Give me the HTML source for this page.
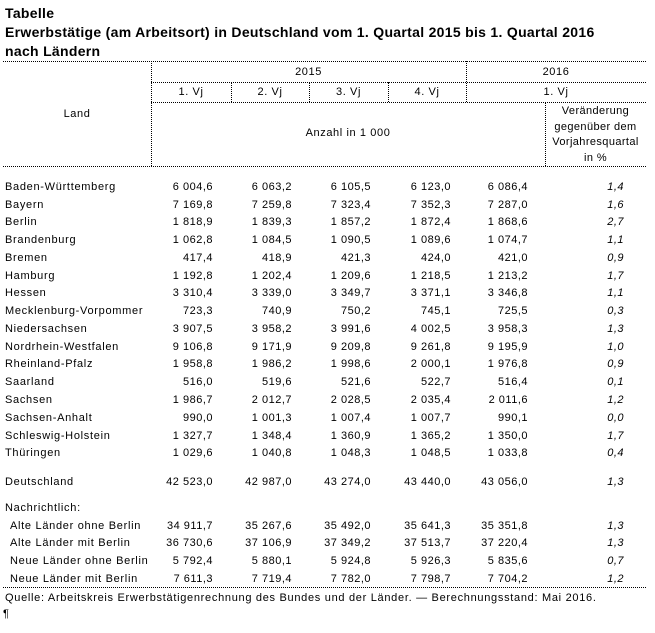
<!DOCTYPE html>
<html><head><meta charset="utf-8">
<style>
body{margin:0;background:#fff;width:655px;height:633px;position:relative;overflow:hidden;font-family:"Liberation Sans",Arial,sans-serif;color:#000}
.t{position:absolute;font-weight:bold;font-size:14px;left:5px;white-space:nowrap;line-height:18px;letter-spacing:0.3px}
.h{position:absolute;border-top:1px dotted #000;height:0}
.v{position:absolute;border-left:1px dotted #000;width:0}
.r{position:absolute;left:0;width:655px;height:14px;font-size:11px;line-height:14px;white-space:nowrap;letter-spacing:0.7px}
.r span{position:absolute}
.n{position:absolute;text-align:right;width:80px;letter-spacing:0.5px}
.c{position:absolute;font-size:11px;line-height:14px;text-align:center;white-space:nowrap;letter-spacing:0.6px}
</style></head><body>
<div class="t" style="top:4px">Tabelle</div>
<div class="t" style="top:23px">Erwerbstätige (am Arbeitsort) in Deutschland vom 1. Quartal 2015 bis 1. Quartal 2016</div>
<div class="t" style="top:42px">nach Ländern</div>

<div class="h" style="top:61px;left:3px;width:643px"></div>
<div class="h" style="top:82px;left:151px;width:495px"></div>
<div class="h" style="top:102px;left:151px;width:495px"></div>
<div class="h" style="top:166px;left:3px;width:643px"></div>
<div class="h" style="top:587px;left:3px;width:643px"></div>
<div class="v" style="left:151px;top:61px;height:105px"></div>
<div class="v" style="left:466px;top:61px;height:41px"></div>
<div class="v" style="left:231px;top:82px;height:20px"></div>
<div class="v" style="left:309px;top:82px;height:20px"></div>
<div class="v" style="left:388px;top:82px;height:20px"></div>
<div class="v" style="left:545px;top:102px;height:64px"></div>

<div class="c" style="left:151px;width:315px;top:65px">2015</div>
<div class="c" style="left:466px;width:180px;top:65px">2016</div>
<div class="c" style="left:151px;width:80px;top:85px">1. Vj</div>
<div class="c" style="left:231px;width:78px;top:85px">2. Vj</div>
<div class="c" style="left:309px;width:79px;top:85px">3. Vj</div>
<div class="c" style="left:388px;width:78px;top:85px">4. Vj</div>
<div class="c" style="left:466px;width:180px;top:85px">1. Vj</div>
<div class="c" style="left:3px;width:148px;top:107px">Land</div>
<div class="c" style="left:151px;width:394px;top:126px">Anzahl in 1 000</div>
<div class="c" style="left:545px;width:101px;top:104px;line-height:15.5px;letter-spacing:0.4px">Veränderung<br>gegenüber dem<br>Vorjahresquartal<br>in %</div>

<div class="r" style="top:591px"><span style="left:5px">Quelle: Arbeitskreis Erwerbstätigenrechnung des Bundes und der Länder. — Berechnungsstand: Mai 2016.</span></div>
<div class="r" style="top:607px"><span style="left:3px">¶</span></div>

<div class="r" style="top:180px"><span style="left:5px">Baden-Württemberg</span><span class="n" style="left:133px">6 004,6</span><span class="n" style="left:212px">6 063,2</span><span class="n" style="left:291px">6 105,5</span><span class="n" style="left:371px">6 123,0</span><span class="n" style="left:448px">6 086,4</span><span class="n" style="left:544px;font-style:italic">1,4</span></div>
<div class="r" style="top:198px"><span style="left:5px">Bayern</span><span class="n" style="left:133px">7 169,8</span><span class="n" style="left:212px">7 259,8</span><span class="n" style="left:291px">7 323,4</span><span class="n" style="left:371px">7 352,3</span><span class="n" style="left:448px">7 287,0</span><span class="n" style="left:544px;font-style:italic">1,6</span></div>
<div class="r" style="top:215px"><span style="left:5px">Berlin</span><span class="n" style="left:133px">1 818,9</span><span class="n" style="left:212px">1 839,3</span><span class="n" style="left:291px">1 857,2</span><span class="n" style="left:371px">1 872,4</span><span class="n" style="left:448px">1 868,6</span><span class="n" style="left:544px;font-style:italic">2,7</span></div>
<div class="r" style="top:233px"><span style="left:5px">Brandenburg</span><span class="n" style="left:133px">1 062,8</span><span class="n" style="left:212px">1 084,5</span><span class="n" style="left:291px">1 090,5</span><span class="n" style="left:371px">1 089,6</span><span class="n" style="left:448px">1 074,7</span><span class="n" style="left:544px;font-style:italic">1,1</span></div>
<div class="r" style="top:251px"><span style="left:5px">Bremen</span><span class="n" style="left:133px">417,4</span><span class="n" style="left:212px">418,9</span><span class="n" style="left:291px">421,3</span><span class="n" style="left:371px">424,0</span><span class="n" style="left:448px">421,0</span><span class="n" style="left:544px;font-style:italic">0,9</span></div>
<div class="r" style="top:269px"><span style="left:5px">Hamburg</span><span class="n" style="left:133px">1 192,8</span><span class="n" style="left:212px">1 202,4</span><span class="n" style="left:291px">1 209,6</span><span class="n" style="left:371px">1 218,5</span><span class="n" style="left:448px">1 213,2</span><span class="n" style="left:544px;font-style:italic">1,7</span></div>
<div class="r" style="top:286px"><span style="left:5px">Hessen</span><span class="n" style="left:133px">3 310,4</span><span class="n" style="left:212px">3 339,0</span><span class="n" style="left:291px">3 349,7</span><span class="n" style="left:371px">3 371,1</span><span class="n" style="left:448px">3 346,8</span><span class="n" style="left:544px;font-style:italic">1,1</span></div>
<div class="r" style="top:304px"><span style="left:5px">Mecklenburg-Vorpommer</span><span class="n" style="left:133px">723,3</span><span class="n" style="left:212px">740,9</span><span class="n" style="left:291px">750,2</span><span class="n" style="left:371px">745,1</span><span class="n" style="left:448px">725,5</span><span class="n" style="left:544px;font-style:italic">0,3</span></div>
<div class="r" style="top:322px"><span style="left:5px">Niedersachsen</span><span class="n" style="left:133px">3 907,5</span><span class="n" style="left:212px">3 958,2</span><span class="n" style="left:291px">3 991,6</span><span class="n" style="left:371px">4 002,5</span><span class="n" style="left:448px">3 958,3</span><span class="n" style="left:544px;font-style:italic">1,3</span></div>
<div class="r" style="top:340px"><span style="left:5px">Nordrhein-Westfalen</span><span class="n" style="left:133px">9 106,8</span><span class="n" style="left:212px">9 171,9</span><span class="n" style="left:291px">9 209,8</span><span class="n" style="left:371px">9 261,8</span><span class="n" style="left:448px">9 195,9</span><span class="n" style="left:544px;font-style:italic">1,0</span></div>
<div class="r" style="top:357px"><span style="left:5px">Rheinland-Pfalz</span><span class="n" style="left:133px">1 958,8</span><span class="n" style="left:212px">1 986,2</span><span class="n" style="left:291px">1 998,6</span><span class="n" style="left:371px">2 000,1</span><span class="n" style="left:448px">1 976,8</span><span class="n" style="left:544px;font-style:italic">0,9</span></div>
<div class="r" style="top:375px"><span style="left:5px">Saarland</span><span class="n" style="left:133px">516,0</span><span class="n" style="left:212px">519,6</span><span class="n" style="left:291px">521,6</span><span class="n" style="left:371px">522,7</span><span class="n" style="left:448px">516,4</span><span class="n" style="left:544px;font-style:italic">0,1</span></div>
<div class="r" style="top:393px"><span style="left:5px">Sachsen</span><span class="n" style="left:133px">1 986,7</span><span class="n" style="left:212px">2 012,7</span><span class="n" style="left:291px">2 028,5</span><span class="n" style="left:371px">2 035,4</span><span class="n" style="left:448px">2 011,6</span><span class="n" style="left:544px;font-style:italic">1,2</span></div>
<div class="r" style="top:411px"><span style="left:5px">Sachsen-Anhalt</span><span class="n" style="left:133px">990,0</span><span class="n" style="left:212px">1 001,3</span><span class="n" style="left:291px">1 007,4</span><span class="n" style="left:371px">1 007,7</span><span class="n" style="left:448px">990,1</span><span class="n" style="left:544px;font-style:italic">0,0</span></div>
<div class="r" style="top:429px"><span style="left:5px">Schleswig-Holstein</span><span class="n" style="left:133px">1 327,7</span><span class="n" style="left:212px">1 348,4</span><span class="n" style="left:291px">1 360,9</span><span class="n" style="left:371px">1 365,2</span><span class="n" style="left:448px">1 350,0</span><span class="n" style="left:544px;font-style:italic">1,7</span></div>
<div class="r" style="top:446px"><span style="left:5px">Thüringen</span><span class="n" style="left:133px">1 029,6</span><span class="n" style="left:212px">1 040,8</span><span class="n" style="left:291px">1 048,3</span><span class="n" style="left:371px">1 048,5</span><span class="n" style="left:448px">1 033,8</span><span class="n" style="left:544px;font-style:italic">0,4</span></div>
<div class="r" style="top:475px"><span style="left:5px">Deutschland</span><span class="n" style="left:133px">42 523,0</span><span class="n" style="left:212px">42 987,0</span><span class="n" style="left:291px">43 274,0</span><span class="n" style="left:371px">43 440,0</span><span class="n" style="left:448px">43 056,0</span><span class="n" style="left:544px;font-style:italic">1,3</span></div>
<div class="r" style="top:501px"><span style="left:5px">Nachrichtlich:</span></div>
<div class="r" style="top:519px"><span style="left:10px">Alte Länder ohne Berlin</span><span class="n" style="left:133px">34 911,7</span><span class="n" style="left:212px">35 267,6</span><span class="n" style="left:291px">35 492,0</span><span class="n" style="left:371px">35 641,3</span><span class="n" style="left:448px">35 351,8</span><span class="n" style="left:544px;font-style:italic">1,3</span></div>
<div class="r" style="top:536px"><span style="left:10px">Alte Länder mit Berlin</span><span class="n" style="left:133px">36 730,6</span><span class="n" style="left:212px">37 106,9</span><span class="n" style="left:291px">37 349,2</span><span class="n" style="left:371px">37 513,7</span><span class="n" style="left:448px">37 220,4</span><span class="n" style="left:544px;font-style:italic">1,3</span></div>
<div class="r" style="top:554px"><span style="left:10px">Neue Länder ohne Berlin</span><span class="n" style="left:133px">5 792,4</span><span class="n" style="left:212px">5 880,1</span><span class="n" style="left:291px">5 924,8</span><span class="n" style="left:371px">5 926,3</span><span class="n" style="left:448px">5 835,6</span><span class="n" style="left:544px;font-style:italic">0,7</span></div>
<div class="r" style="top:572px"><span style="left:10px">Neue Länder mit Berlin</span><span class="n" style="left:133px">7 611,3</span><span class="n" style="left:212px">7 719,4</span><span class="n" style="left:291px">7 782,0</span><span class="n" style="left:371px">7 798,7</span><span class="n" style="left:448px">7 704,2</span><span class="n" style="left:544px;font-style:italic">1,2</span></div>
</body></html>
